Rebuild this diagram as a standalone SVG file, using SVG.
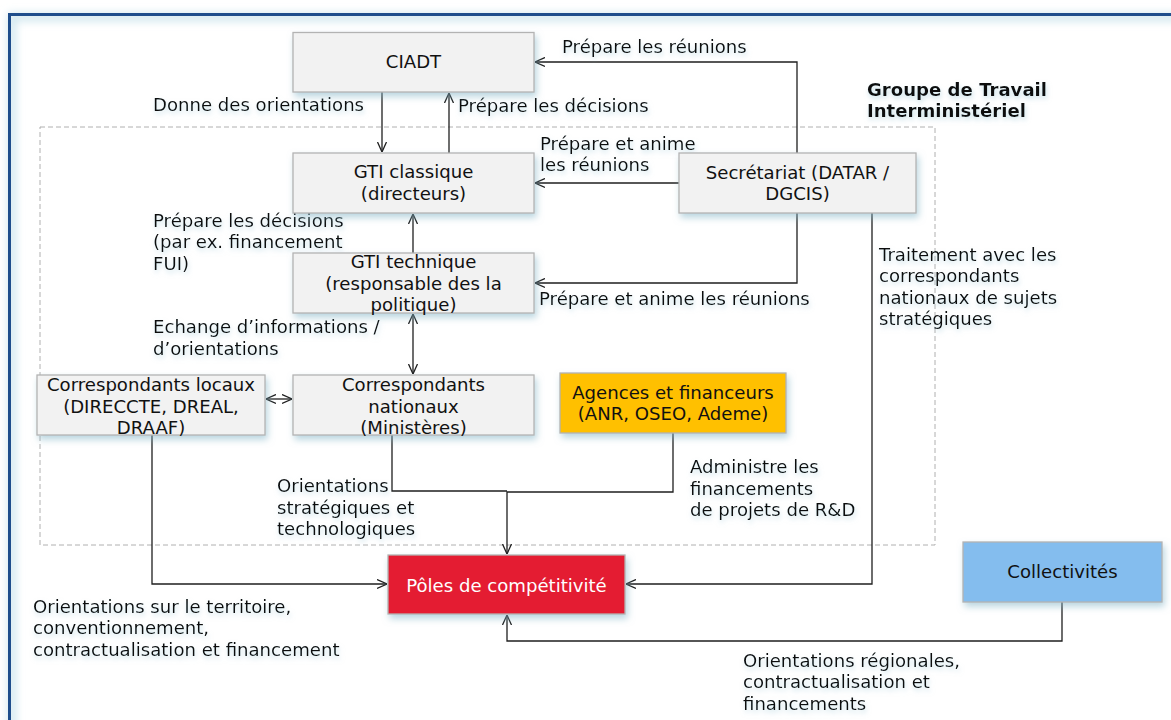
<svg xmlns="http://www.w3.org/2000/svg" width="1171" height="720" viewBox="0 0 1171 720">
<style>
text{font-family:"DejaVu Sans","Verdana",sans-serif;font-size:18.1px;fill:#111111}
.c{text-anchor:middle}
.b{font-weight:bold}
.lbl{filter:url(#tsh)}
.box{fill:#f2f2f2;stroke:#b3b3b3;stroke-width:1.3;filter:url(#sh)}
.cn{fill:none;stroke:#1f1f1f;stroke-width:1.3}
</style>
<defs>
<filter id="sh" x="-20%" y="-30%" width="140%" height="170%">
<feDropShadow dx="2" dy="4" stdDeviation="3.5" flood-color="#7fb2c6" flood-opacity="0.55"/>
</filter>
<filter id="tsh" x="-10%" y="-40%" width="120%" height="190%">
<feDropShadow dx="1" dy="3" stdDeviation="2.5" flood-color="#9cc8d6" flood-opacity="0.55"/>
</filter>
<filter id="glow" x="-5%" y="-5%" width="110%" height="110%">
<feGaussianBlur stdDeviation="4"/>
</filter>
<marker id="ah" viewBox="0 0 10 10" refX="10" refY="5" markerWidth="10" markerHeight="11" markerUnits="userSpaceOnUse" orient="auto-start-reverse">
<path d="M0,0.5 L10,5 L0,9.5" fill="none" stroke="#1f1f1f" stroke-width="1.3"/>
</marker>
</defs>
<rect width="1171" height="720" fill="#ffffff"/>
<g id="frame">
<rect x="12" y="17" width="1200" height="800" fill="none" stroke="#cfe6ee" stroke-width="8" filter="url(#glow)"/>
<rect x="9.5" y="14.5" width="1200" height="800" fill="none" stroke="#1f4e8c" stroke-width="3"/>
</g>
<g id="groupe">
<rect x="40" y="127" width="895" height="418" fill="none" stroke="#b0b0b0" stroke-width="1" stroke-dasharray="5,3"/>
<text class="b lbl" x="867" y="96">Groupe de Travail</text>
<text class="b lbl" x="867" y="117">Interministériel</text>
</g>
<g id="connectors">
<path class="cn" d="M382,92 V152" marker-end="url(#ah)"/>
<path class="cn" d="M449,153 V93" marker-end="url(#ah)" stroke="#666"/>
<path class="cn" d="M797,153 V62 H535" marker-end="url(#ah)"/>
<path class="cn" d="M679,183 H535" marker-end="url(#ah)"/>
<path class="cn" d="M797,213 V283 H535" marker-end="url(#ah)"/>
<path class="cn" d="M413,253 V214" marker-end="url(#ah)"/>
<path class="cn" d="M413,314 V374" marker-start="url(#ah)" marker-end="url(#ah)"/>
<path class="cn" d="M266,399 H292" marker-start="url(#ah)" marker-end="url(#ah)"/>
<path class="cn" d="M152,435 V584 H387" marker-end="url(#ah)"/>
<path class="cn" d="M392,435 V491 H507"/>
<path class="cn" d="M673,433 V492 H507 V554" marker-end="url(#ah)"/>
<path class="cn" d="M872,213 V584 H626" marker-end="url(#ah)"/>
<path class="cn" d="M1062,602 V641 H507 V615" marker-end="url(#ah)"/>
</g>
<g id="labels">
<text class="lbl" x="562" y="53">Prépare les réunions</text>
<text class="lbl" x="153" y="111">Donne des orientations</text>
<text class="lbl" x="458" y="112">Prépare les décisions</text>
<text class="lbl" x="540" y="150">Prépare et anime</text>
<text class="lbl" x="540" y="171">les réunions</text>
<text class="lbl" x="153" y="227">Prépare les décisions</text>
<text class="lbl" x="153" y="248">(par ex. financement</text>
<text class="lbl" x="153" y="270">FUI)</text>
<text class="lbl" x="539" y="305">Prépare et anime les réunions</text>
<text class="lbl" x="153" y="333">Echange d’informations /</text>
<text class="lbl" x="153" y="355">d’orientations</text>
<text class="lbl" x="879" y="261">Traitement avec les</text>
<text class="lbl" x="879" y="282">correspondants</text>
<text class="lbl" x="879" y="304">nationaux de sujets</text>
<text class="lbl" x="879" y="325">stratégiques</text>
<text class="lbl" x="277" y="492">Orientations</text>
<text class="lbl" x="277" y="514">stratégiques et</text>
<text class="lbl" x="277" y="535">technologiques</text>
<text class="lbl" x="690" y="473">Administre les</text>
<text class="lbl" x="690" y="495">financements</text>
<text class="lbl" x="690" y="516">de projets de R&amp;D</text>
<text class="lbl" x="33" y="613">Orientations sur le territoire,</text>
<text class="lbl" x="33" y="634">conventionnement,</text>
<text class="lbl" x="33" y="656">contractualisation et financement</text>
<text class="lbl" x="743" y="667">Orientations régionales,</text>
<text class="lbl" x="743" y="688">contractualisation et</text>
<text class="lbl" x="743" y="710">financements</text>
</g>
<g id="ciadt">
<rect class="box" x="293" y="32.5" width="241" height="59.5"/>
<text class="c" x="413.5" y="68">CIADT</text>
</g>
<g id="gti-classique">
<rect class="box" x="293" y="153" width="241" height="60"/>
<text class="c" x="413.5" y="178">GTI classique</text>
<text class="c" x="413.5" y="200">(directeurs)</text>
</g>
<g id="secretariat">
<rect class="box" x="679" y="153" width="237" height="60"/>
<text class="c" x="797.5" y="179">Secrétariat (DATAR /</text>
<text class="c" x="797.5" y="200">DGCIS)</text>
</g>
<g id="gti-technique">
<rect class="box" x="293" y="253" width="241" height="60"/>
<text class="c" x="413.5" y="268">GTI technique</text>
<text class="c" x="413.5" y="290">(responsable des la</text>
<text class="c" x="413.5" y="311">politique)</text>
</g>
<g id="corr-locaux">
<rect class="box" x="37" y="375" width="228" height="60"/>
<text class="c" x="151" y="391">Correspondants locaux</text>
<text class="c" x="151" y="413">(DIRECCTE, DREAL,</text>
<text class="c" x="151" y="434">DRAAF)</text>
</g>
<g id="corr-nationaux">
<rect class="box" x="293" y="375" width="241" height="60"/>
<text class="c" x="413.5" y="391">Correspondants</text>
<text class="c" x="413.5" y="413">nationaux</text>
<text class="c" x="413.5" y="434">(Ministères)</text>
</g>
<g id="agences">
<rect class="box" x="560" y="373" width="226" height="60" style="fill:#ffc000"/>
<text class="c" x="673" y="399">Agences et financeurs</text>
<text class="c" x="673" y="420">(ANR, OSEO, Ademe)</text>
</g>
<g id="poles">
<rect class="box" x="388" y="555" width="237" height="59" style="fill:#e41d30"/>
<text class="c" x="506.5" y="592" style="fill:#ffffff">Pôles de compétitivité</text>
</g>
<g id="collectivites">
<rect class="box" x="963" y="542" width="199" height="60" style="fill:#84bdee"/>
<text class="c" x="1062.5" y="578">Collectivités</text>
</g>
</svg>
